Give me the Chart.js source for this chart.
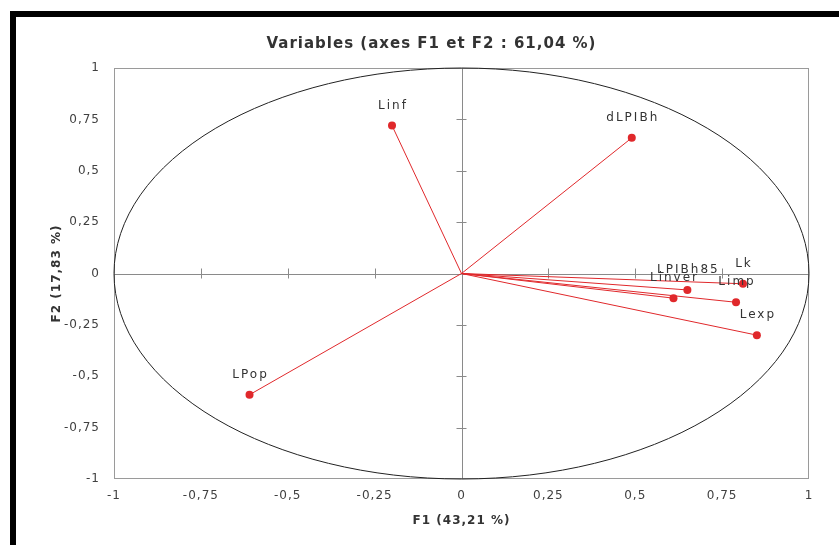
<!DOCTYPE html>
<html>
<head>
<meta charset="utf-8">
<script src="https://cdn.jsdelivr.net/npm/chart.js@4/dist/chart.umd.min.js"></script>
<style>
  html, body { margin: 0; padding: 0; background: #fff; }
  #wrap { position: relative; width: 839px; height: 545px; }
  #frame {
    position: absolute; left: 10px; top: 11px; right: 0; bottom: 0;
    border-top: 6px solid #000; border-left: 6px solid #000;
    pointer-events: none;
  }
</style>
</head>
<body>
<div id="wrap">
  <canvas id="pca" width="839" height="545"></canvas>
  <div id="frame"></div>
</div>
<script>
// variable coordinates on F1 / F2
const variables = ['Linf', 'dLPIBh', 'LPop', 'Lexp', 'Limp', 'Lk', 'LPIBh85', 'Linver'];
const f1 = [-0.20, 0.49, -0.61, 0.85, 0.79, 0.81, 0.65, 0.61];
const f2 = [0.72, 0.66, -0.59, -0.30, -0.14, -0.05, -0.08, -0.12];
const tickValues = [-1, -0.75, -0.5, -0.25, 0, 0.25, 0.5, 0.75, 1];
const tickLabels = ['-1', '-0,75', '-0,5', '-0,25', '0', '0,25', '0,5', '0,75', '1'];

const RED = '#e0282b';
const FONT = 'DejaVu Sans';

function tickText(v) {
    const i = tickValues.findIndex(t => Math.abs(t - v) < 1e-6);
    return i >= 0 ? tickLabels[i] : '';
}

// the source picture is stretched sideways, so widen all text a little
const spacingPlugin = {
    id: 'spacing',
    beforeDraw(chart) {
        chart.ctx.letterSpacing = '1px';
    }
};

// unit circle, cross axes through the origin and plot frame
const circlePlugin = {
    id: 'circle',
    beforeDatasetsDraw(chart) {
        const { ctx, chartArea: a, scales: { x, y } } = chart;
        const x0 = x.getPixelForValue(0);
        const y0 = y.getPixelForValue(0);
        ctx.save();
        ctx.strokeStyle = '#9a9a9a';
        ctx.lineWidth = 1;
        ctx.strokeRect(a.left + 0.5, a.top + 0.5, a.width - 1, a.height - 1);

        ctx.strokeStyle = '#8a8a8a';
        ctx.beginPath();
        ctx.moveTo(a.left, Math.round(y0) + 0.5);
        ctx.lineTo(a.right, Math.round(y0) + 0.5);
        ctx.moveTo(Math.round(x0) + 0.5, a.top);
        ctx.lineTo(Math.round(x0) + 0.5, a.bottom);
        tickValues.forEach(v => {
            if (v === 0 || Math.abs(v) === 1) return;
            const px = Math.round(x.getPixelForValue(v)) + 0.5;
            ctx.moveTo(px, y0 - 5);
            ctx.lineTo(px, y0 + 5);
            const py = Math.round(y.getPixelForValue(v)) + 0.5;
            ctx.moveTo(x0 - 5, py);
            ctx.lineTo(x0 + 5, py);
        });
        ctx.stroke();

        ctx.strokeStyle = '#222';
        ctx.beginPath();
        ctx.ellipse(x0, y0, x.getPixelForValue(1) - x0, y0 - y.getPixelForValue(1), 0, 0, Math.PI * 2);
        ctx.stroke();
        ctx.restore();
    }
};

// variable names above each point
const labelPlugin = {
    id: 'varLabels',
    afterDatasetsDraw(chart) {
        const { ctx } = chart;
        ctx.save();
        ctx.font = '12px "' + FONT + '"';
        ctx.letterSpacing = '2px';
        ctx.fillStyle = '#333';
        ctx.textAlign = 'center';
        ctx.textBaseline = 'middle';
        chart.data.datasets.forEach((ds, i) => {
            const pt = chart.getDatasetMeta(i).data[1];
            ctx.fillText(ds.label, pt.x + 1, pt.y - 20);
        });
        ctx.restore();
    }
};

const datasets = variables.map((name, i) => ({
    label: name,
    data: [{ x: 0, y: 0 }, { x: f1[i], y: f2[i] }],
    showLine: true,
    borderColor: RED,
    borderWidth: 1,
    pointRadius: [0, 4],
    pointBackgroundColor: RED,
    pointBorderColor: RED,
    pointBorderWidth: 0
}));

new Chart(document.getElementById('pca'), {
    type: 'scatter',
    data: { datasets },
    plugins: [spacingPlugin, circlePlugin, labelPlugin],
    options: {
        responsive: false,
        animation: false,
        layout: { padding: { left: 54, right: 30 } },
        plugins: {
            legend: { display: false },
            tooltip: { enabled: false },
            title: {
                display: true,
                text: 'Variables (axes F1 et F2 : 61,04 %)',
                color: '#333',
                font: { family: FONT, size: 15, weight: 'bold' },
                padding: { top: 35, bottom: 15 }
            }
        },
        scales: {
            x: {
                min: -1, max: 1,
                afterBuildTicks(scale) { scale.ticks = tickValues.map(v => ({ value: v })); },
                afterFit(scale) { scale.height = 66; },
                grid: { display: false, drawTicks: false },
                border: { display: false },
                ticks: {
                    color: '#404040',
                    padding: 10,
                    maxRotation: 0,
                    font: { family: FONT, size: 12 },
                    callback: v => tickText(v)
                },
                title: {
                    display: true,
                    text: 'F1 (43,21 %)',
                    color: '#333',
                    font: { family: FONT, size: 12, weight: 'bold' },
                    padding: { bottom: 17 }
                }
            },
            y: {
                min: -1, max: 1,
                afterBuildTicks(scale) { scale.ticks = tickValues.map(v => ({ value: v })); },
                afterFit(scale) { scale.width = 60; },
                grid: { display: false, drawTicks: false },
                border: { display: false },
                ticks: {
                    color: '#404040',
                    padding: 14,
                    font: { family: FONT, size: 12 },
                    callback: v => tickText(v)
                },
                title: {
                    display: true,
                    text: 'F2 (17,83 %)',
                    color: '#333',
                    font: { family: FONT, size: 12, weight: 'bold' },
                    padding: { top: -4 }
                }
            }
        }
    }
});
</script>
</body>
</html>
